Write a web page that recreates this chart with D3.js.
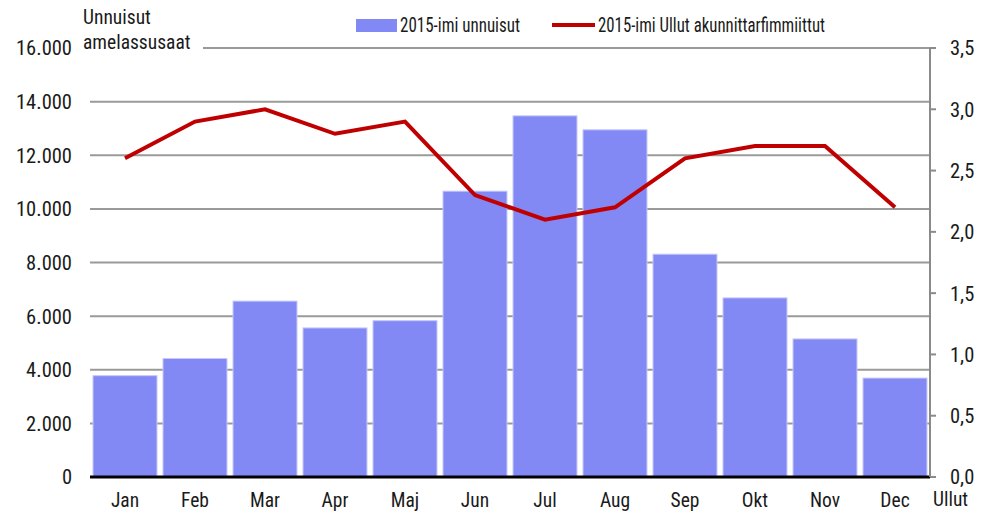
<!DOCTYPE html>
<html>
<head>
<meta charset="utf-8">
<script src="https://cdn.jsdelivr.net/npm/d3@7"></script>
<style>
  body { margin: 0; background: #fff; }
  text { font-family: "Liberation Sans Narrow", "Roboto Condensed", "Liberation Sans", sans-serif; fill: #1a1a1a; }
</style>
</head>
<body>
<div id="chart"></div>
<script>
const months = ['Jan', 'Feb', 'Mar', 'Apr', 'Maj', 'Jun', 'Jul', 'Aug', 'Sep', 'Okt', 'Nov', 'Dec'];
const nights = [3780, 4420, 6560, 5560, 5830, 10660, 13470, 12950, 8310, 6680, 5150, 3690];
const stayLength = [2.6, 2.9, 3.0, 2.8, 2.9, 2.3, 2.1, 2.2, 2.6, 2.7, 2.7, 2.2];
const leftTicks = [0, 2000, 4000, 6000, 8000, 10000, 12000, 14000, 16000];
const rightTicks = [0, 0.5, 1, 1.5, 2, 2.5, 3, 3.5];

let margin = { top: 48, right: 64, bottom: 37, left: 90 },
  width = 994 - margin.left - margin.right,
  height = 514 - margin.top - margin.bottom;

let svg = d3.select('#chart').append('svg')
  .attr('width', 994)
  .attr('height', 514)
  .append('g')
  .attr('transform', 'translate(' + margin.left + ',' + margin.top + ')');

let x = d3.scaleBand().domain(months).range([0, width]).paddingInner(0.086).paddingOuter(0.043);
let y = d3.scaleLinear().domain([0, 16000]).range([height, 0]);
let y2 = d3.scaleLinear().domain([0, 3.5]).range([height, 0]);

let fmt = d => d === 0 ? '0' : d3.format(',')(d).replace(/,/g, '.');
let fmt2 = d => d.toFixed(1).replace('.', ',');

// gridlines
svg.selectAll('.grid')
  .data(leftTicks.filter(d => d > 0))
  .enter().append('line')
  .attr('x1', d => d === 16000 ? 113 : 0)
  .attr('x2', width)
  .attr('y1', d => y(d))
  .attr('y2', d => y(d))
  .attr('stroke', '#9a9a9a')
  .attr('stroke-width', 2);

// left labels
svg.selectAll('.ylab')
  .data(leftTicks)
  .enter().append('text')
  .attr('x', -18)
  .attr('y', d => y(d))
  .attr('dy', '0.36em')
  .attr('text-anchor', 'end')
  .style('font-size', '20.5px')
  .text(fmt);

// bars
svg.selectAll('.bar')
  .data(nights)
  .enter().append('rect')
  .attr('x', (d, i) => x(months[i]))
  .attr('y', d => y(d))
  .attr('width', x.bandwidth())
  .attr('height', d => height - y(d))
  .attr('fill', '#8389f4')
  .attr('stroke', '#c5c8fb')
  .attr('stroke-width', 1);

// line
let line = d3.line()
  .x((d, i) => x(months[i]) + x.bandwidth() / 2)
  .y(d => y2(d));

svg.append('path')
  .datum(stayLength)
  .attr('d', line)
  .attr('fill', 'none')
  .attr('stroke', '#c00000')
  .attr('stroke-width', 4)
  .attr('stroke-linejoin', 'miter');

// bottom axis line
svg.append('line')
  .attr('x1', 0).attr('x2', width)
  .attr('y1', height).attr('y2', height)
  .attr('stroke', '#000')
  .attr('stroke-width', 3);

// right axis
svg.append('line')
  .attr('x1', width).attr('x2', width)
  .attr('y1', 0).attr('y2', height)
  .attr('stroke', '#8a8a8a')
  .attr('stroke-width', 2);

svg.selectAll('.rtick')
  .data(rightTicks)
  .enter().append('line')
  .attr('x1', width).attr('x2', width + 6)
  .attr('y1', d => y2(d)).attr('y2', d => y2(d))
  .attr('stroke', '#8a8a8a')
  .attr('stroke-width', 2);

svg.selectAll('.y2lab')
  .data(rightTicks)
  .enter().append('text')
  .attr('x', width + 20)
  .attr('y', d => y2(d))
  .attr('dy', '0.36em')
  .style('font-size', '20.5px')
  .text(fmt2);

svg.append('text')
  .attr('x', width + 3)
  .attr('y', height + 29)
  .style('font-size', '19.5px')
  .text('Ullut');

// month labels
svg.selectAll('.xlab')
  .data(months)
  .enter().append('text')
  .attr('x', d => x(d) + x.bandwidth() / 2)
  .attr('y', height + 30)
  .attr('text-anchor', 'middle')
  .style('font-size', '19.5px')
  .text(d => d);

// left axis title
svg.append('text')
  .attr('x', -7)
  .attr('y', -24)
  .style('font-size', '19.5px')
  .text('Unnuisut');
svg.append('text')
  .attr('x', -7)
  .attr('y', 1)
  .style('font-size', '19.5px')
  .text('amelassusaat');

// legend
let legend = svg.append('g').attr('transform', 'translate(0,' + (-margin.top) + ')');
legend.append('rect')
  .attr('x', 266).attr('y', 19)
  .attr('width', 41).attr('height', 13)
  .attr('fill', '#8389f4');
legend.append('text')
  .attr('x', 310).attr('y', 32)
  .attr('textLength', 120)
  .attr('lengthAdjust', 'spacingAndGlyphs')
  .style('font-size', '20px')
  .text('2015-imi unnuisut');
legend.append('line')
  .attr('x1', 462).attr('x2', 505)
  .attr('y1', 25).attr('y2', 25)
  .attr('stroke', '#c00000')
  .attr('stroke-width', 4);
legend.append('text')
  .attr('x', 508).attr('y', 32)
  .attr('textLength', 227)
  .attr('lengthAdjust', 'spacingAndGlyphs')
  .style('font-size', '20px')
  .text('2015-imi Ullut akunnittarfimmiittut');
</script>
</body>
</html>
